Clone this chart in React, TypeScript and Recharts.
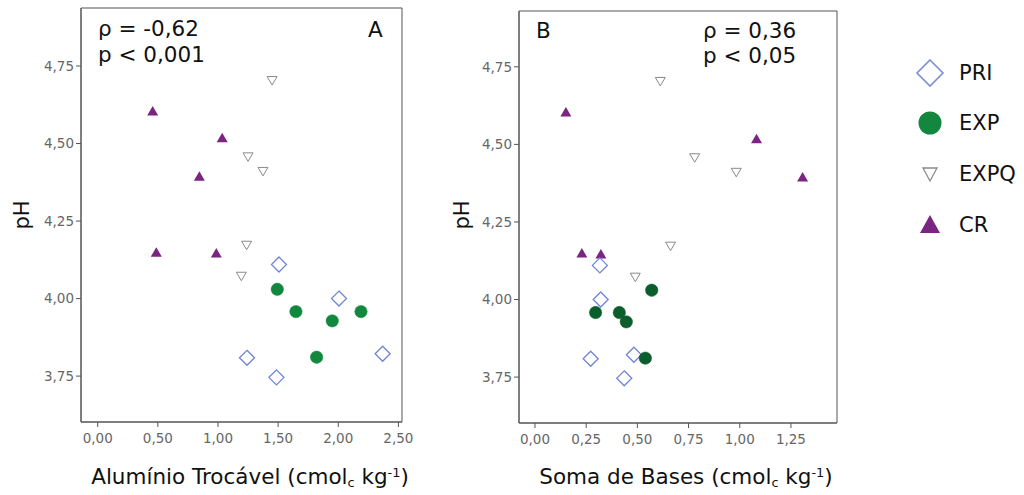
import React from 'react';
import {
  ScatterChart,
  Scatter,
  XAxis,
  YAxis,
  ReferenceArea,
} from 'recharts';

// pH per sample (shared by both panels)
const phPRI = [4.11, 4.0, 3.822, 3.809, 3.746];
const phEXP = [4.03, 3.958, 3.958, 3.928, 3.811];
const phEXPQ = [4.703, 4.457, 4.41, 4.172, 4.072];
const phCR = [4.603, 4.517, 4.393, 4.148, 4.145];

// Alumínio trocável (panel A)
const alPRI = [1.507, 2.006, 2.369, 1.241, 1.486];
const alEXP = [1.493, 1.648, 2.189, 1.95, 1.82];
const alEXPQ = [1.45, 1.25, 1.374, 1.238, 1.194];
const alCR = [0.457, 1.035, 0.845, 0.487, 0.986];

// Soma de bases (panel B)
const sbPRI = [0.317, 0.321, 0.483, 0.272, 0.436];
const sbEXP = [0.57, 0.296, 0.412, 0.446, 0.539];
const sbEXPQ = [0.612, 0.78, 0.983, 0.662, 0.49];
const sbCR = [0.151, 1.082, 1.307, 0.229, 0.322];

const phTicks = [3.75, 4.0, 4.25, 4.5, 4.75];
const alTicks = [0, 0.5, 1.0, 1.5, 2.0, 2.5];
const sbTicks = [0, 0.25, 0.5, 0.75, 1.0, 1.25];

const toRows = (xs: number[], ys: number[]) => xs.map((x, i) => ({ x, y: ys[i] }));

const FONT = '"DejaVu Sans", Verdana, sans-serif';
const AXIS = '#555';
const fmt = (v: number) => v.toFixed(2).replace('.', ',');

const Diamond = (props: any) => {
  const { cx, cy } = props;
  const r = 7.5;
  return (
    <path
      d={`M${cx},${cy - r}L${cx + r},${cy}L${cx},${cy + r}L${cx - r},${cy}Z`}
      fill="#fff"
      stroke="#6f85d6"
      strokeWidth={1.3}
    />
  );
};

const makeDot = (color: string) => (props: any) => {
  const { cx, cy } = props;
  return <circle cx={cx} cy={cy} r={6.2} fill={color} stroke={color} strokeWidth={0.5} />;
};

const DownTri = (props: any) => {
  const { cx, cy } = props;
  return (
    <path
      d={`M${cx - 5},${cy - 4}L${cx + 5},${cy - 4}L${cx},${cy + 4.5}Z`}
      fill="#fff"
      stroke="#8a8a8a"
      strokeWidth={1}
    />
  );
};

const UpTri = (props: any) => {
  const { cx, cy } = props;
  return (
    <path
      d={`M${cx},${cy - 5.5}L${cx + 5.5},${cy + 4}L${cx - 5.5},${cy + 4}Z`}
      fill="#7b2582"
    />
  );
};

interface PanelProps {
  left: number;
  top: number;
  margin: { top: number; right: number; bottom: number; left: number };
  xDomain: [number, number];
  yDomain: [number, number];
  xTicks: number[];
  sets: { pri: any[]; exp: any[]; expq: any[]; cr: any[] };
  expColor: string;
}

const Panel: React.FC<PanelProps> = ({ left, top, margin, xDomain, yDomain, xTicks, sets, expColor }) => {
  const tickStyle = { fill: '#666', fontSize: 13.5, fontFamily: FONT };
  return (
    <div style={{ position: 'absolute', left, top }}>
      <ScatterChart width={420} height={495} margin={margin}>
        <XAxis
          type="number"
          dataKey="x"
          domain={xDomain}
          ticks={xTicks}
          allowDataOverflow
          tickFormatter={fmt}
          tick={tickStyle}
          tickSize={5}
          tickMargin={6}
          height={30}
          stroke={AXIS}
          interval={0}
        />
        <YAxis
          type="number"
          dataKey="y"
          domain={yDomain}
          ticks={phTicks}
          allowDataOverflow
          tickFormatter={fmt}
          tick={tickStyle}
          tickSize={5}
          tickMargin={2}
          width={50}
          stroke={AXIS}
          interval={0}
        />
        <ReferenceArea
          x1={xDomain[0]}
          x2={xDomain[1]}
          y1={yDomain[0]}
          y2={yDomain[1]}
          fill="none"
          stroke={AXIS}
          strokeWidth={1}
          ifOverflow="visible"
        />
        <Scatter data={sets.expq} shape={DownTri} isAnimationActive={false} />
        <Scatter data={sets.cr} shape={UpTri} isAnimationActive={false} />
        <Scatter data={sets.pri} shape={Diamond} isAnimationActive={false} />
        <Scatter data={sets.exp} shape={makeDot(expColor)} isAnimationActive={false} />
      </ScatterChart>
    </div>
  );
};

const Unit = () => (
  <>
    (cmol<sub style={{ fontSize: '0.6em', verticalAlign: '-0.2em' }}>c</sub> kg
    <sup style={{ fontSize: '0.6em', verticalAlign: '0.6em' }}>-1</sup>)
  </>
);

const textBase: React.CSSProperties = {
  position: 'absolute',
  fontFamily: FONT,
  color: '#111',
  whiteSpace: 'nowrap',
  lineHeight: 1,
};

const legendItems = [
  { name: 'PRI', y: 73 },
  { name: 'EXP', y: 123 },
  { name: 'EXPQ', y: 174 },
  { name: 'CR', y: 225 },
];

const LegendIcon = ({ name }: { name: string }) => {
  if (name === 'PRI')
    return <path d="M15,2L28,15L15,28L2,15Z" fill="#fff" stroke="#7a8fd8" strokeWidth={1.6} />;
  if (name === 'EXP') return <circle cx={15} cy={15} r={11.5} fill="#14873f" />;
  if (name === 'EXPQ') return <path d="M8,9L22,9L15,22Z" fill="#fff" stroke="#8a8a8a" strokeWidth={1.3} />;
  return <path d="M15,5L25,23L5,23Z" fill="#7b2582" />;
};

export default function App() {
  const setsA = {
    pri: toRows(alPRI, phPRI),
    exp: toRows(alEXP, phEXP),
    expq: toRows(alEXPQ, phEXPQ),
    cr: toRows(alCR, phCR),
  };
  const setsB = {
    pri: toRows(sbPRI, phPRI),
    exp: toRows(sbEXP, phEXP),
    expq: toRows(sbEXPQ, phEXPQ),
    cr: toRows(sbCR, phCR),
  };

  return (
    <div style={{ position: 'absolute', left: 0, top: 0, width: 1024, height: 495, background: '#fff', overflow: 'hidden' }}>
      {/* Panel A */}
      <Panel
        left={0}
        top={0}
        margin={{ top: 8, right: 18, bottom: 43, left: 31 }}
        xDomain={[-0.139, 2.53]}
        yDomain={[3.602, 4.937]}
        xTicks={alTicks}
        sets={setsA}
        expColor="#11883d"
      />
      {/* Panel B */}
      <Panel
        left={440}
        top={0}
        margin={{ top: 11, right: 23, bottom: 42, left: 29 }}
        xDomain={[-0.078, 1.475]}
        yDomain={[3.602, 4.93]}
        xTicks={sbTicks}
        sets={setsB}
        expColor="#0b5e2b"
      />

      {/* Panel annotations */}
      <div style={{ ...textBase, left: 98, top: 18, fontSize: 21.5 }}>ρ = -0,62</div>
      <div style={{ ...textBase, left: 98, top: 44, fontSize: 21.5 }}>p &lt; 0,001</div>
      <div style={{ ...textBase, left: 368, top: 19, fontSize: 21.5 }}>A</div>

      <div style={{ ...textBase, left: 536, top: 20, fontSize: 21.5 }}>B</div>
      <div style={{ ...textBase, left: 703, top: 20, fontSize: 21.5 }}>ρ = 0,36</div>
      <div style={{ ...textBase, left: 703, top: 45, fontSize: 21.5 }}>p &lt; 0,05</div>

      {/* Axis titles */}
      <div style={{ ...textBase, left: 22, top: 215, fontSize: 21, transform: 'translate(-50%, -50%) rotate(-90deg)' }}>pH</div>
      <div style={{ ...textBase, left: 462, top: 215, fontSize: 21, transform: 'translate(-50%, -50%) rotate(-90deg)' }}>pH</div>
      <div style={{ ...textBase, left: 250, top: 478, fontSize: 21.5, transform: 'translate(-50%, -50%)' }}>
        Alumínio Trocável <Unit />
      </div>
      <div style={{ ...textBase, left: 686, top: 478, fontSize: 21.5, transform: 'translate(-50%, -50%)' }}>
        Soma de Bases <Unit />
      </div>

      {/* Legend */}
      {legendItems.map((it) => (
        <div key={it.name}>
          <svg
            width={30}
            height={30}
            style={{ position: 'absolute', left: 915, top: it.y - 15 }}
          >
            <LegendIcon name={it.name} />
          </svg>
          <div style={{ ...textBase, left: 959, top: it.y, fontSize: 21, transform: 'translateY(-50%)' }}>{it.name}</div>
        </div>
      ))}
    </div>
  );
}
